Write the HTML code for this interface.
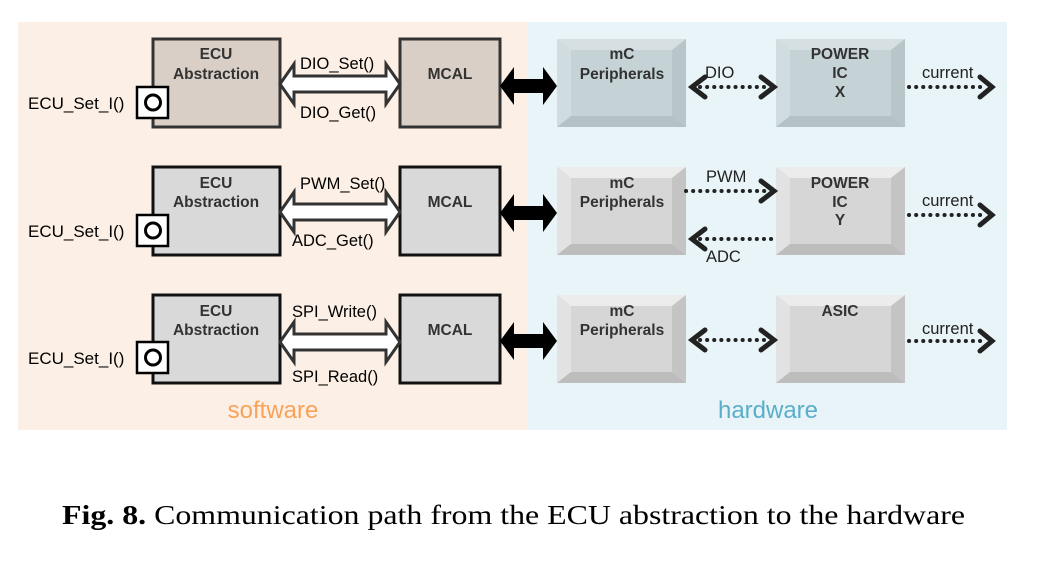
<!DOCTYPE html>
<html><head><style>
body{margin:0;background:#fff;}
svg{display:block;}
</style></head><body>
<svg width="1038" height="565" viewBox="0 0 1038 565" xmlns="http://www.w3.org/2000/svg" font-family="Liberation Sans, sans-serif">
<defs>
<g id="hollow"><path d="M280,0 L294,-20 L294,-8 L386,-8 L386,-20 L400,0 L386,20 L386,8 L294,8 L294,20 Z" fill="#fff" stroke="#333" stroke-width="3" stroke-linejoin="miter"/></g>
<g id="black"><path d="M500,0 L514,-19 L514,-7 L543,-7 L543,-19 L557,0 L543,19 L543,7 L514,7 L514,19 Z" fill="#000"/></g>
<g id="port"><rect x="137" y="0" width="31" height="31" fill="#fff" stroke="#000" stroke-width="2.5"/><circle cx="153" cy="15.5" r="7.5" fill="none" stroke="#000" stroke-width="3"/></g>
</defs>
<rect x="18" y="22" width="509" height="408" fill="#fcefe5"/>
<rect x="527" y="22" width="480" height="408" fill="#e8f4f7"/>

<rect x="153" y="39" width="127" height="88" fill="#d9cfc6" stroke="#333" stroke-width="3"/>
<rect x="153" y="167" width="127" height="88" fill="#d9d9d9" stroke="#111" stroke-width="3"/>
<rect x="153" y="295" width="127" height="88" fill="#d9d9d9" stroke="#111" stroke-width="3"/>
<g font-weight="bold" font-size="15.5" fill="#333" text-anchor="middle">
<text x="216" y="59">ECU</text><text x="216" y="79">Abstraction</text>
<text x="216" y="188">ECU</text><text x="216" y="207">Abstraction</text>
<text x="216" y="316">ECU</text><text x="216" y="335">Abstraction</text>
</g>
<use href="#port" transform="translate(0,87)"/>
<use href="#port" transform="translate(0,215)"/>
<use href="#port" transform="translate(0,342)"/>
<g font-size="17" fill="#000">
<text x="28" y="109">ECU_Set_I()</text>
<text x="28" y="237">ECU_Set_I()</text>
<text x="28" y="364">ECU_Set_I()</text>
</g>
<rect x="400" y="39" width="100" height="88" fill="#d9cfc6" stroke="#333" stroke-width="3"/>
<rect x="400" y="167" width="100" height="88" fill="#d9d9d9" stroke="#111" stroke-width="3"/>
<rect x="400" y="295" width="100" height="88" fill="#d9d9d9" stroke="#111" stroke-width="3"/>
<g font-weight="bold" font-size="15.5" fill="#333" text-anchor="middle">
<text x="450" y="79">MCAL</text><text x="450" y="207">MCAL</text><text x="450" y="335">MCAL</text>
</g>
<use href="#hollow" transform="translate(0,84)"/>
<use href="#hollow" transform="translate(0,212)"/>
<use href="#hollow" transform="translate(0,342)"/>
<g font-size="16.5" fill="#000">
<text x="300" y="69">DIO_Set()</text><text x="300" y="118">DIO_Get()</text>
<text x="300" y="189">PWM_Set()</text><text x="292" y="246">ADC_Get()</text>
<text x="292" y="317">SPI_Write()</text><text x="292" y="382">SPI_Read()</text>
</g>
<use href="#black" transform="translate(0,86)"/>
<use href="#black" transform="translate(0,213)"/>
<use href="#black" transform="translate(0,341)"/>

<g>
<rect x="557" y="39" width="129" height="88" fill="#c6d3d6"/>
<polygon points="557,39 686,39 672,50 571,50" fill="#d6e0e2"/>
<polygon points="557,39 571,50 571,116 557,127" fill="#d0dcdf"/>
<polygon points="686,39 672,50 672,116 686,127" fill="#b8c6c9"/>
<polygon points="557,127 571,116 672,116 686,127" fill="#b4c2c5"/>
<rect x="776" y="39" width="129" height="88" fill="#c6d3d6"/>
<polygon points="776,39 905,39 891,50 790,50" fill="#d6e0e2"/>
<polygon points="776,39 790,50 790,116 776,127" fill="#d0dcdf"/>
<polygon points="905,39 891,50 891,116 905,127" fill="#b8c6c9"/>
<polygon points="776,127 790,116 891,116 905,127" fill="#b4c2c5"/>
</g>
<g>
<rect x="557" y="167" width="129" height="88" fill="#d6d6d6"/>
<polygon points="557,167 686,167 672,178 571,178" fill="#ececec"/>
<polygon points="557,167 571,178 571,244 557,255" fill="#e2e2e2"/>
<polygon points="686,167 672,178 672,244 686,255" fill="#c4c4c4"/>
<polygon points="557,255 571,244 672,244 686,255" fill="#bdbdbd"/>
<rect x="776" y="167" width="129" height="88" fill="#d6d6d6"/>
<polygon points="776,167 905,167 891,178 790,178" fill="#ececec"/>
<polygon points="776,167 790,178 790,244 776,255" fill="#e2e2e2"/>
<polygon points="905,167 891,178 891,244 905,255" fill="#c4c4c4"/>
<polygon points="776,255 790,244 891,244 905,255" fill="#bdbdbd"/>
<rect x="557" y="295" width="129" height="88" fill="#d6d6d6"/>
<polygon points="557,295 686,295 672,306 571,306" fill="#ececec"/>
<polygon points="557,295 571,306 571,372 557,383" fill="#e2e2e2"/>
<polygon points="686,295 672,306 672,372 686,383" fill="#c4c4c4"/>
<polygon points="557,383 571,372 672,372 686,383" fill="#bdbdbd"/>
<rect x="776" y="295" width="129" height="88" fill="#d6d6d6"/>
<polygon points="776,295 905,295 891,306 790,306" fill="#ececec"/>
<polygon points="776,295 790,306 790,372 776,383" fill="#e2e2e2"/>
<polygon points="905,295 891,306 891,372 905,383" fill="#c4c4c4"/>
<polygon points="776,383 790,372 891,372 905,383" fill="#bdbdbd"/>
</g>
<g font-weight="bold" font-size="15.5" fill="#333" text-anchor="middle">
<text x="622" y="59">mC</text><text x="622" y="79">Peripherals</text>
<text x="622" y="188">mC</text><text x="622" y="207">Peripherals</text>
<text x="622" y="316">mC</text><text x="622" y="335">Peripherals</text>
<text x="840" y="59">POWER</text><text x="840" y="78">IC</text><text x="840" y="97">X</text>
<text x="840" y="188">POWER</text><text x="840" y="207">IC</text><text x="840" y="225">Y</text>
<text x="840" y="316">ASIC</text>
</g>
<g stroke="#222" stroke-width="4" stroke-linecap="round" fill="none">
<path d="M700,87 H766" stroke-dasharray="0.1,7"/>
<path d="M705,77 L692,87 L705,97 M761,77 L774,87 L761,97" stroke-width="5"/>
<path d="M909,87 H984" stroke-dasharray="0.1,7"/>
<path d="M980,77 L992,87 L980,97" stroke-width="5"/>
<path d="M686,191 H766" stroke-dasharray="0.1,7"/>
<path d="M761,181 L774,191 L761,201" stroke-width="5"/>
<path d="M700,239 H776" stroke-dasharray="0.1,7"/>
<path d="M705,229 L692,239 L705,249" stroke-width="5"/>
<path d="M909,215 H984" stroke-dasharray="0.1,7"/>
<path d="M980,205 L992,215 L980,225" stroke-width="5"/>
<path d="M700,340 H766" stroke-dasharray="0.1,7"/>
<path d="M705,330 L692,340 L705,350 M761,330 L774,340 L761,350" stroke-width="5"/>
<path d="M909,341 H984" stroke-dasharray="0.1,7"/>
<path d="M980,331 L992,341 L980,351" stroke-width="5"/>
</g>
<g font-size="16.5" fill="#222">
<text x="705" y="78">DIO</text>
<text x="706" y="182">PWM</text>
<text x="706" y="262">ADC</text>
<text x="922" y="78">current</text>
<text x="922" y="206">current</text>
<text x="922" y="334">current</text>
</g>
<text x="273" y="418" font-size="24" fill="#f7a35a" text-anchor="middle">software</text>
<text x="768" y="418" font-size="24" fill="#5aaecb" text-anchor="middle">hardware</text>
<text x="62" y="524" font-family="Liberation Serif, serif" font-size="27" fill="#000" textLength="903" lengthAdjust="spacingAndGlyphs"><tspan font-weight="bold">Fig. 8.</tspan> Communication path from the ECU abstraction to the hardware</text>
</svg>
</body></html>
